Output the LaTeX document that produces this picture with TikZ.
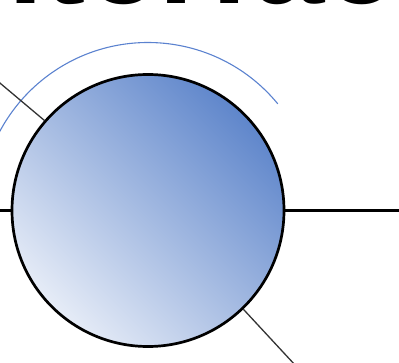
\documentclass[tikz,border=0pt]{standalone}
\usepackage{fontspec}
\setmainfont{Liberation Sans}
\usetikzlibrary{calc}
\definecolor{darkblue}{HTML}{5F86CB}
\definecolor{lightblue}{HTML}{E6ECF7}
\definecolor{arcblue}{HTML}{5B82CF}
\tikzset{
  ball/.style={circle, draw=black, line width=2.7pt, minimum size=272pt, inner sep=0pt,
    top color=darkblue, bottom color=lightblue, shading angle=-45},
  thickline/.style={line width=2.8pt, black},
  thinline/.style={line width=1.3pt, black!80},
  bluearc/.style={line width=1.1pt, arcblue},
  bigtitle/.style={font=\fontsize{130}{150}\selectfont\bfseries, inner sep=0pt, anchor=base west}
}
\begin{document}
\begin{tikzpicture}[x=1pt,y=1pt]
\useasboundingbox (0,0) rectangle (399,362);
\clip (0,0) rectangle (399,362);
\node[bigtitle] (title) at (-73,358.5) {interface};
\draw[bluearc] (148,151.5) ++(39.4:168) arc[start angle=39.4, end angle=205, radius=168];
\coordinate (tl) at ($(148,151.5)+(139.4:240)$);
\coordinate (br) at ($(148,151.5)+(-46.5:240)$);
\node[ball] (c) at (148,151.5) {};
\coordinate (le) at ($(c.west)+(-20,0)$);
\coordinate (re) at ($(c.east)+(140,0)$);
\draw[thinline] (c.139.4) -- (tl);
\draw[thinline] (c.-46.5) -- (br);
\draw[thickline] (c.west) -- (le);
\draw[thickline] (c.east) -- (re);
\end{tikzpicture}
\end{document}
